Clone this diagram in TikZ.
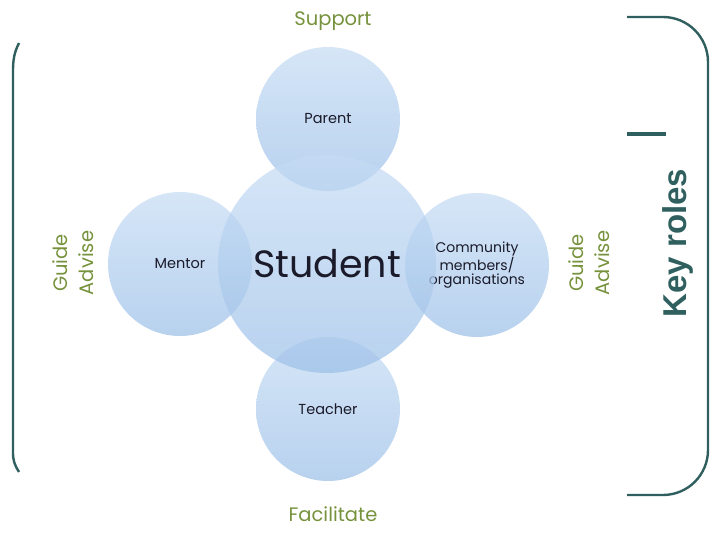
\documentclass[tikz,border=0pt]{standalone}
\usepackage{fontspec}
\setmainfont{Poppins}
\newfontfamily\keyfont{Liberation Sans}
\definecolor{teal}{HTML}{2F5F5E}
\definecolor{olive}{HTML}{76923C}
\definecolor{ctop}{HTML}{C6DCF4}
\definecolor{cbot}{HTML}{9CC0E8}
\definecolor{ink}{HTML}{1A1A2A}
\begin{document}
\begin{tikzpicture}[x=1pt,y=1pt,
  bubble/.style={circle,inner sep=0pt,shade,top color=ctop,bottom color=cbot,fill opacity=0.72,text opacity=1,text=ink,align=center},
  small/.style={bubble,minimum size=144pt,font=\fontsize{14.5}{15}\selectfont},
  verb/.style={text=olive,font=\fontsize{19.5}{26}\selectfont,align=center},
  brk/.style={draw=teal,line width=2.4pt}]
\useasboundingbox (0,0) rectangle (720,540);
\node[small] (parent) at (328,421) {Parent};
\node[small] (mentor) at (180,276) {Mentor};
\node[small,font=\fontsize{14}{14.5}\selectfont] (community) at (477,275) {Community\\members/\\organisations};
\node[small] (teacher) at (328,131) {Teacher};
\node[bubble,minimum size=218pt,font=\fontsize{38}{40}\selectfont] (student) at (327,276) {Student};
\node[verb] (support) at (333,519) {Support};
\node[verb] (facilitate) at (333,26) {Facilitate};
\node[verb,rotate=90] (ga1) at (73,277) {Guide\\Advise};
\node[verb,rotate=90] (ga2) at (589,277) {Guide\\Advise};
\node[rotate=90,text=teal,font=\keyfont\bfseries\fontsize{33}{36}\selectfont] (key) at (678,297) {Key roles};
\draw[brk] (19,497) .. controls (14,487) and (13,480) .. (13,468) -- (13,88) .. controls (13,80) and (14,76) .. (19,68);
\draw[brk,rounded corners=45pt] (627,523) -- (708,523) -- (708,45) -- (627,45);
\draw[draw=teal,line width=3.5pt] (627,406) -- (666,406);
\end{tikzpicture}
\end{document}
